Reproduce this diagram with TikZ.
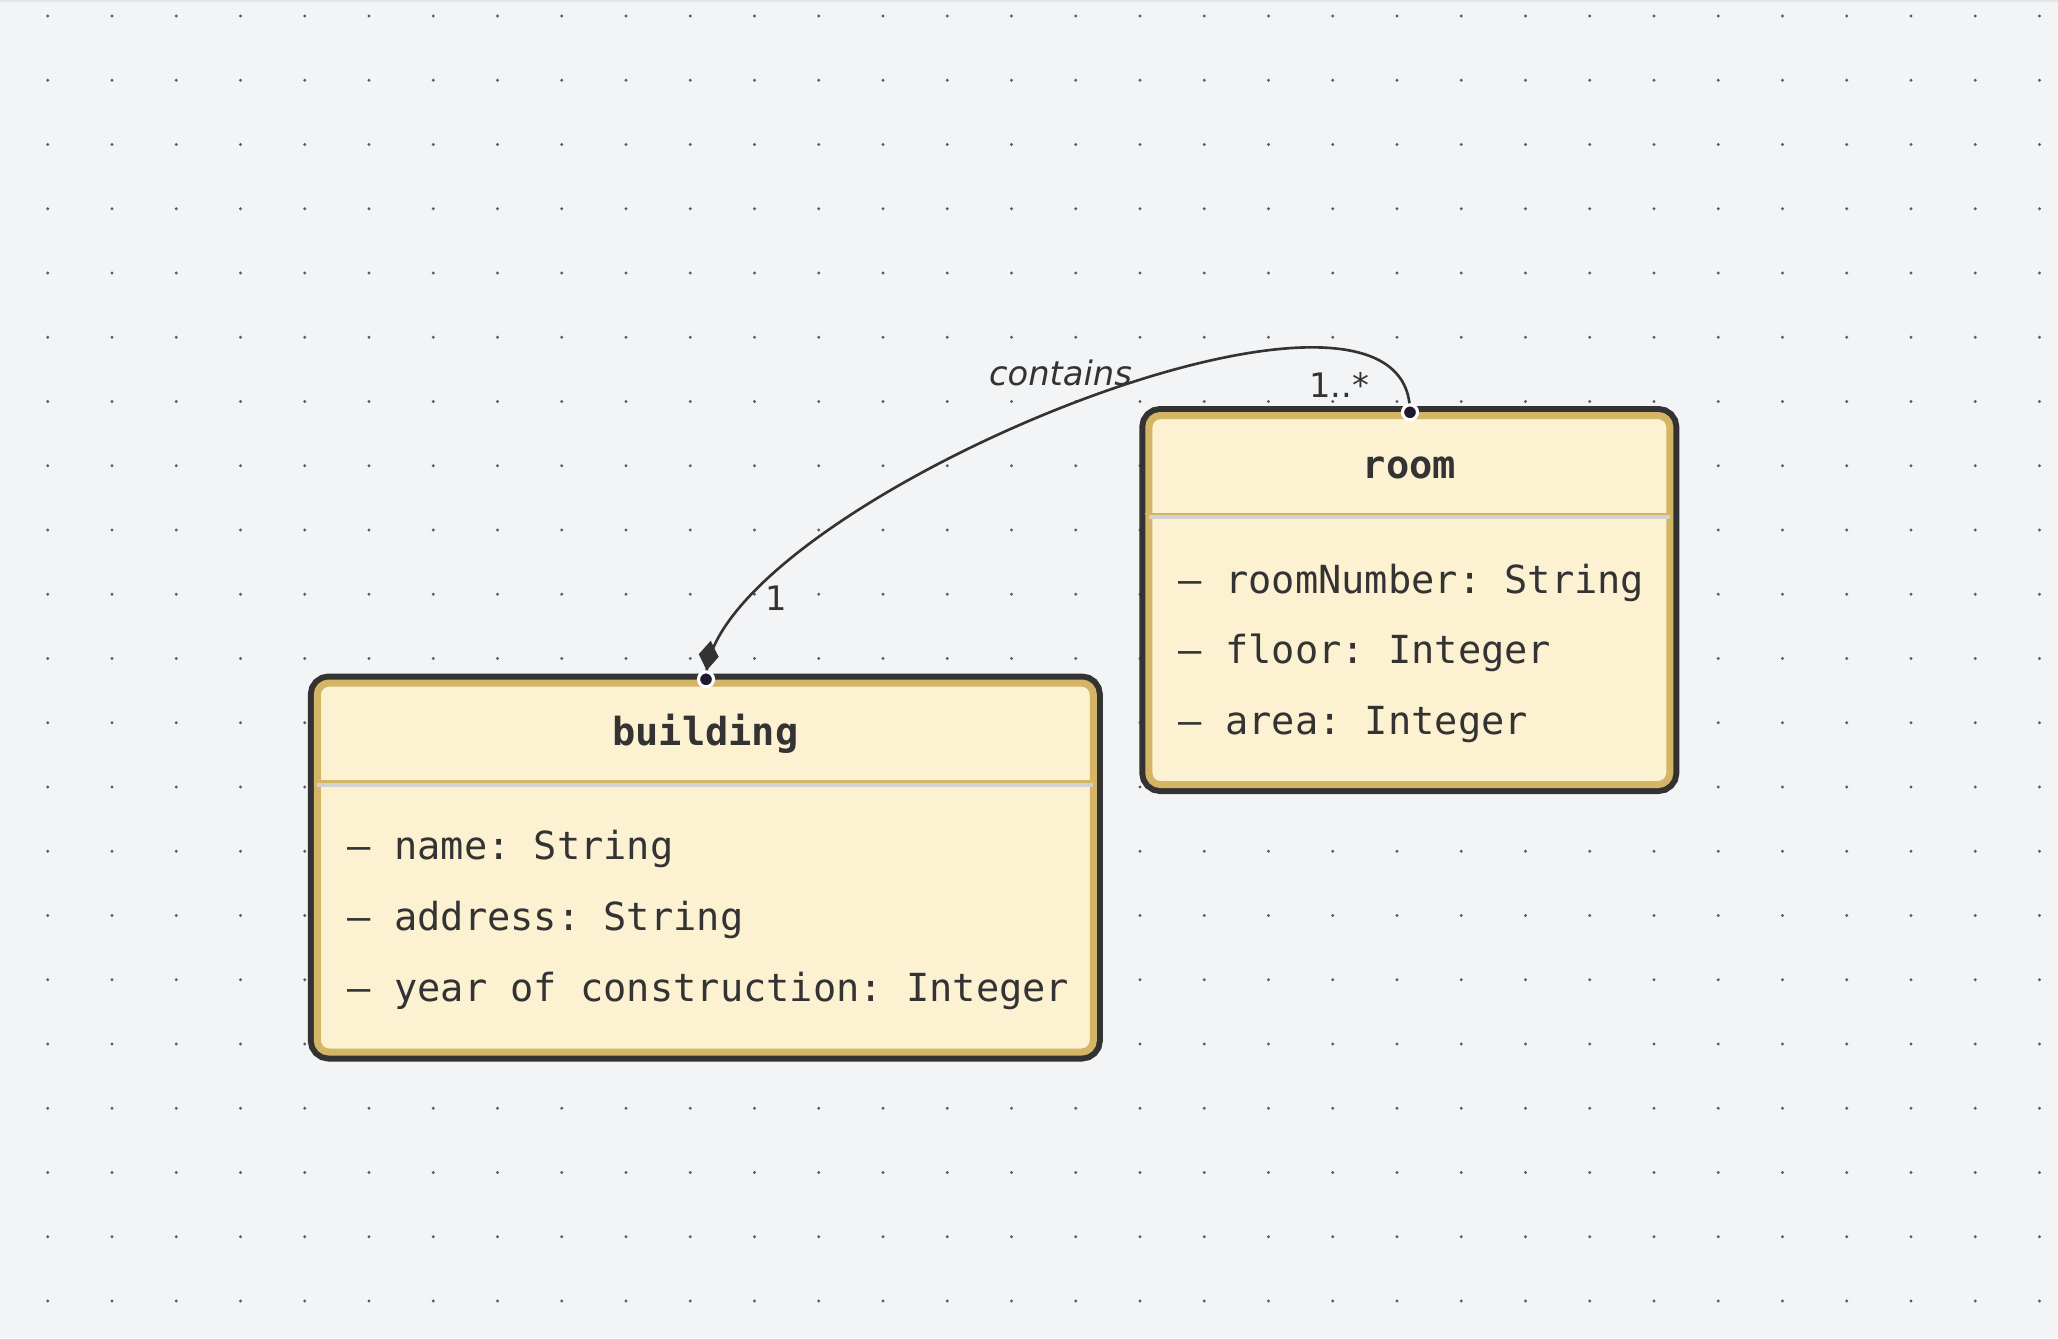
\documentclass[tikz,border=0pt]{standalone}
\usepackage{fontspec}
\setmonofont{DejaVu Sans Mono}
\newfontfamily\lblfont{DejaVu Sans}
\usetikzlibrary{arrows.meta,decorations.markings}

\definecolor{bg}{HTML}{F3F4F6}
\definecolor{topline}{HTML}{E3E5E9}
\definecolor{griddot}{HTML}{5A5C60}
\definecolor{ink}{HTML}{333333}
\definecolor{cream}{HTML}{FCF1D1}
\definecolor{gold}{HTML}{D4B565}
\definecolor{sepgray}{HTML}{D2D2D2}
\definecolor{portfill}{HTML}{1C1B2E}

\pgfdeclarelayer{canvas}
\pgfdeclarelayer{links}
\pgfsetlayers{canvas,links,main}

\tikzset{
    classbox/.style={rectangle,rounded corners=3.3pt,inner sep=0pt,fill=cream,draw=gold,line width=2pt,
        preaction={draw=ink,line width=5.4pt}},
    title/.style={inner sep=0pt,anchor=base,text=ink,font=\ttfamily\bfseries\fontsize{11pt}{13pt}\selectfont},
    attr/.style={inner sep=0pt,anchor=base west,text=ink,font=\ttfamily\fontsize{11pt}{13pt}\selectfont},
    sepgold/.style={draw=gold,line width=0.77pt},
    sepgray/.style={draw=sepgray,line width=1.13pt,shorten <=1pt,shorten >=1pt},
    port/.style={circle,minimum size=1.5mm,inner sep=0pt,fill=portfill,draw=white,line width=0.9pt},
    assoc/.style={color=ink,line width=0.75pt,postaction={decorate},
        decoration={markings,mark=at position -0.9mm with {\arrow{Diamond[length=3mm,width=2mm]}}}},
    lbl/.style={inner sep=0pt,anchor=base,text=ink,font=\lblfont\fontsize{9.6pt}{11pt}\selectfont}
}

\begin{document}
\begin{tikzpicture}
                    \useasboundingbox (0,0) rectangle (20.58,-13.38);
                    % Canvas
                    \begin{pgfonlayer}{canvas}
                    \fill[bg] (0,0) rectangle (20.58,-13.38);
                    \fill[topline] (0,0) rectangle (20.58,-0.02);
                    \foreach \i in {0,...,31}
                        \foreach \j in {0,...,20}
                            \fill[griddot] ({0.477+0.6425*\i},{-0.16-0.6425*\j}) circle (0.016);
                    \end{pgfonlayer}
                    % Building
                    \draw (7.053,-8.675) node[classbox,minimum width=7.76cm,minimum height=3.69cm] (B) {};
                    \node[title] (BT) at (7.053,-7.453) {building};
                    \draw[sepgold] (B.west |- 0,-7.813) -- (B.east |- 0,-7.813);
                    \draw[sepgray] (B.west |- 0,-7.846) -- (B.east |- 0,-7.846);
                    \node[attr] (B1) at (3.47,-8.59) {– name: String};
                    \node[attr] (B2) at (3.47,-9.30) {– address: String};
                    \node[attr] (B3) at (3.47,-10.01) {– year of construction: Integer};
                    % Room
                    \draw (14.093,-6.00) node[classbox,minimum width=5.21cm,minimum height=3.69cm] (R) {};
                    \node[title] (RT) at (14.093,-4.78) {room};
                    \draw[sepgold] (R.west |- 0,-5.14) -- (R.east |- 0,-5.14);
                    \draw[sepgray] (R.west |- 0,-5.173) -- (R.east |- 0,-5.173);
                    \node[attr] (R1) at (11.78,-5.93) {– roomNumber: String};
                    \node[attr] (R2) at (11.78,-6.635) {– floor: Integer};
                    \node[attr] (R3) at (11.78,-7.34) {– area: Integer};
                    % Ports
                    \node[port] (BP) at (7.06,-6.793) {};
                    \node[port] (RP) at (14.10,-4.123) {};
                    % Link
                    \begin{pgfonlayer}{links}
                    \draw[assoc] (RP.center) .. controls ([yshift=1.96cm]RP.center) and ([yshift=1.69cm]BP.center) .. (BP.center);
                    \end{pgfonlayer}
                    \node[lbl,font=\lblfont\itshape\fontsize{9.6pt}{11pt}\selectfont] (L0) at (10.605,-3.85) {contains};
                    \node[lbl] (L1) at (7.765,-6.107) {1};
                    \node[lbl] (L2) at (13.39,-3.973) {1..*};
\end{tikzpicture}
\end{document}
